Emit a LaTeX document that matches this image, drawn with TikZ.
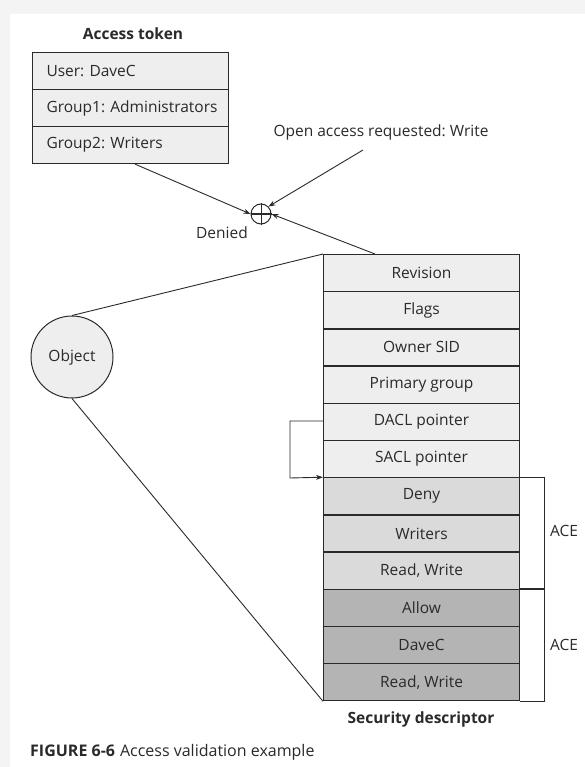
\documentclass[tikz,border=0pt]{standalone}
\usepackage{fontspec}
\setmainfont{Open Sans}
\usetikzlibrary{arrows.meta,calc}
\definecolor{bgstrip}{HTML}{F4F4F4}
\definecolor{rowA}{HTML}{EEEEEE}
\definecolor{rowB}{HTML}{DADADA}
\definecolor{rowC}{HTML}{B4B4B4}
\definecolor{ink}{HTML}{2A2A2A}
\tikzset{
  cell/.style={draw=ink, line width=1.1pt, minimum width=196pt, minimum height=37pt, inner sep=0pt, font=\fontsize{15.5}{17}\selectfont, text=ink},
  tcell/.style={cell, fill=rowA, inner xsep=14pt, text width=168pt, align=left},
  conn/.style={draw=ink, line width=0.9pt},
  arr/.style={conn, -{Stealth[length=7pt,width=5pt]}},
  lbl/.style={font=\fontsize{15.5}{17}\selectfont, text=ink, inner sep=0pt},
  blbl/.style={font=\bfseries\fontsize{15.5}{17}\selectfont, text=ink, inner sep=0pt}
}
\begin{document}
\frenchspacing
\hbadness=10000 \hfuzz=100pt
\begin{tikzpicture}[x=1pt,y=-1pt]
\useasboundingbox (0,0) rectangle (585,767);
\fill[bgstrip] (0,0) rectangle (585,767);
\fill[white] (10,14) rectangle (585,767);
% Access token
\node[blbl] (attitle) at (133,34) {Access token};
\node[tcell, anchor=north west] (u) at (32,52) {\mbox{User: DaveC}};
\node[tcell, anchor=north west] (g1) at (32,89) {\mbox{Group1: Administrators}};
\node[tcell, anchor=north west] (g2) at (32,126) {\mbox{Group2: Writers}};
% request
\node[lbl] (req) at (381,132) {Open access requested: Write};
\node[draw=ink, line width=1pt, circle, minimum size=20pt, inner sep=0pt] (op) at (261,214) {};
\draw[ink, line width=1pt] (op.north) -- (op.south) (op.west) -- (op.east);
\node[lbl, anchor=east] (den) at (248,233) {Denied};
% security descriptor
\foreach \n/\t/\c [count=\i from 0] in {rev/Revision/rowA, flg/Flags/rowA, own/Owner SID/rowA, pg/Primary group/rowA, dacl/DACL pointer/rowA, sacl/SACL pointer/rowA, deny/Deny/rowB, wr/Writers/rowB, rw1/{Read, Write}/rowB, allow/Allow/rowC, dave/DaveC/rowC, rw2/{Read, Write}/rowC}
  \node[cell, fill=\c, anchor=north west] (\n) at (323,{254+37.2*\i}) {\t};
\node[blbl] (sdtitle) at (421,719) {Security descriptor};
% object
\node[draw=ink, line width=1pt, circle, fill=rowA, minimum size=82pt, inner sep=0pt, font=\fontsize{15.5}{17}\selectfont, text=ink] (obj) at (72,357) {Object};
\draw[conn] (obj.north) -- (rev.north west);
\draw[conn] (obj.south) -- (rw2.south west);
% arrows to op
\draw[arr] ($(g2.south west)+(103,0)$) -- (op.west);
\coordinate (reqs) at (363,150);
\draw[arr] (reqs) -- (op.north east);
\coordinate (revs) at (375,254);
\draw[arr] (revs) -- (op.east);
% DACL pointer
\coordinate (dk1) at (290,421);
\coordinate (dk2) at (290,478);
\draw[arr] (dacl.west |- dk1) -- (dk1) -- (dk2) -- (deny.north west);
% brackets
\draw[conn, line width=1.1pt] (deny.north east) -- ++(24,0) coordinate (b1) |- (rw1.south east);
\draw[conn, line width=1.1pt] (allow.north east) -- ++(24,0) coordinate (b2) |- (rw2.south east);
\node[lbl] (ace1) at (564,531) {ACE};
\node[lbl] (ace2) at (564,645) {ACE};
% caption
\node[lbl, anchor=west, font=\fontsize{16}{18}\selectfont] (cap) at (30,752) {\textbf{FIGURE 6-6}\hspace{5pt}Access validation example};
\end{tikzpicture}
\end{document}
